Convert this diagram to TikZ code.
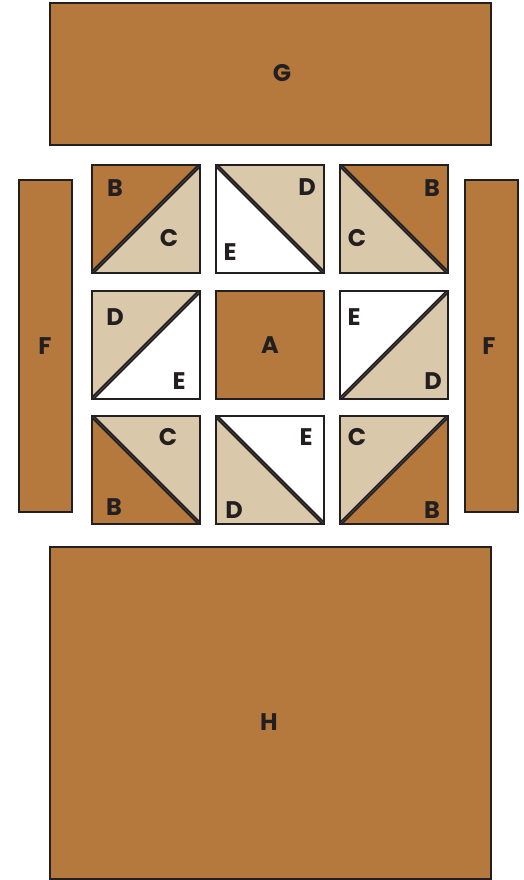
\documentclass[tikz,border=0pt]{standalone}
\usepackage{fontspec}
\setmainfont{Poppins}
\usetikzlibrary{positioning}
\definecolor{rust}{HTML}{B5793D}
\definecolor{tan}{HTML}{D9C8AA}
\definecolor{ink}{HTML}{231F20}

\begin{document}
\begin{tikzpicture}[x=1pt,y=-1pt,patch/.style={draw=ink,line width=2.2pt},seam/.style={draw=ink,line width=1.6pt,double=gray!40!ink,double distance=0.7pt,shorten <=1.2pt,shorten >=1.2pt},lbl/.style={font=\bfseries\fontsize{24}{24}\selectfont,text=ink,inner sep=0pt}]
\useasboundingbox (0,0) rectangle (524,880);
% borders
\draw[patch,fill=rust] (50,3) rectangle (491,145);
\draw[patch,fill=rust] (19,180) rectangle (72,512);
\draw[patch,fill=rust] (465,180) rectangle (518,512);
\draw[patch,fill=rust] (50,547) rectangle (491,879);
\node[lbl] (g) at (282,73) {G};
\node[lbl] (fl) at (45,346) {F};
\node[lbl] (fr) at (489,346) {F};
\node[lbl] (h) at (269,722) {H};
% row 1
\fill[tan] (92,165) rectangle (200,273);
\fill[rust] (92,165) -- (200,165) -- (92,273) -- cycle;
\draw[seam] (92,273) -- (200,165);
\draw[patch] (92,165) rectangle (200,273);
\node[lbl] (b1) at (115,188) {B};
\node[lbl] (c1) at (169,238) {C};
\fill[white] (216,165) rectangle (324,273);
\fill[tan] (216,165) -- (324,165) -- (324,273) -- cycle;
\draw[seam] (216,165) -- (324,273);
\draw[patch] (216,165) rectangle (324,273);
\node[lbl] (d1) at (307,187) {D};
\node[lbl] (e1) at (230,252) {E};
\fill[tan] (340,165) rectangle (448,273);
\fill[rust] (340,165) -- (448,165) -- (448,273) -- cycle;
\draw[seam] (340,165) -- (448,273);
\draw[patch] (340,165) rectangle (448,273);
\node[lbl] (b2) at (432,188) {B};
\node[lbl] (c2) at (357,238) {C};
% row 2
\fill[white] (92,291) rectangle (200,399);
\fill[tan] (92,291) -- (200,291) -- (92,399) -- cycle;
\draw[seam] (92,399) -- (200,291);
\draw[patch] (92,291) rectangle (200,399);
\node[lbl] (d2) at (115,317) {D};
\node[lbl] (e2) at (179,381) {E};
\draw[patch,fill=rust] (216,291) rectangle (324,399);
\node[lbl] (a) at (270,345) {A};
\fill[tan] (340,291) rectangle (448,399);
\fill[white] (340,291) -- (448,291) -- (340,399) -- cycle;
\draw[seam] (340,399) -- (448,291);
\draw[patch] (340,291) rectangle (448,399);
\node[lbl] (e3) at (354,317) {E};
\node[lbl] (d3) at (433,381) {D};
% row 3
\fill[rust] (92,416) rectangle (200,524);
\fill[tan] (92,416) -- (200,416) -- (200,524) -- cycle;
\draw[seam] (92,416) -- (200,524);
\draw[patch] (92,416) rectangle (200,524);
\node[lbl] (c3) at (168,437) {C};
\node[lbl] (b3) at (114,507) {B};
\fill[tan] (216,416) rectangle (324,524);
\fill[white] (216,416) -- (324,416) -- (324,524) -- cycle;
\draw[seam] (216,416) -- (324,524);
\draw[patch] (216,416) rectangle (324,524);
\node[lbl] (e4) at (306,437) {E};
\node[lbl] (d4) at (234,510) {D};
\fill[rust] (340,416) rectangle (448,524);
\fill[tan] (340,416) -- (448,416) -- (340,524) -- cycle;
\draw[seam] (340,524) -- (448,416);
\draw[patch] (340,416) rectangle (448,524);
\node[lbl] (c4) at (357,437) {C};
\node[lbl] (b4) at (432,510) {B};
\end{tikzpicture}
\end{document}
